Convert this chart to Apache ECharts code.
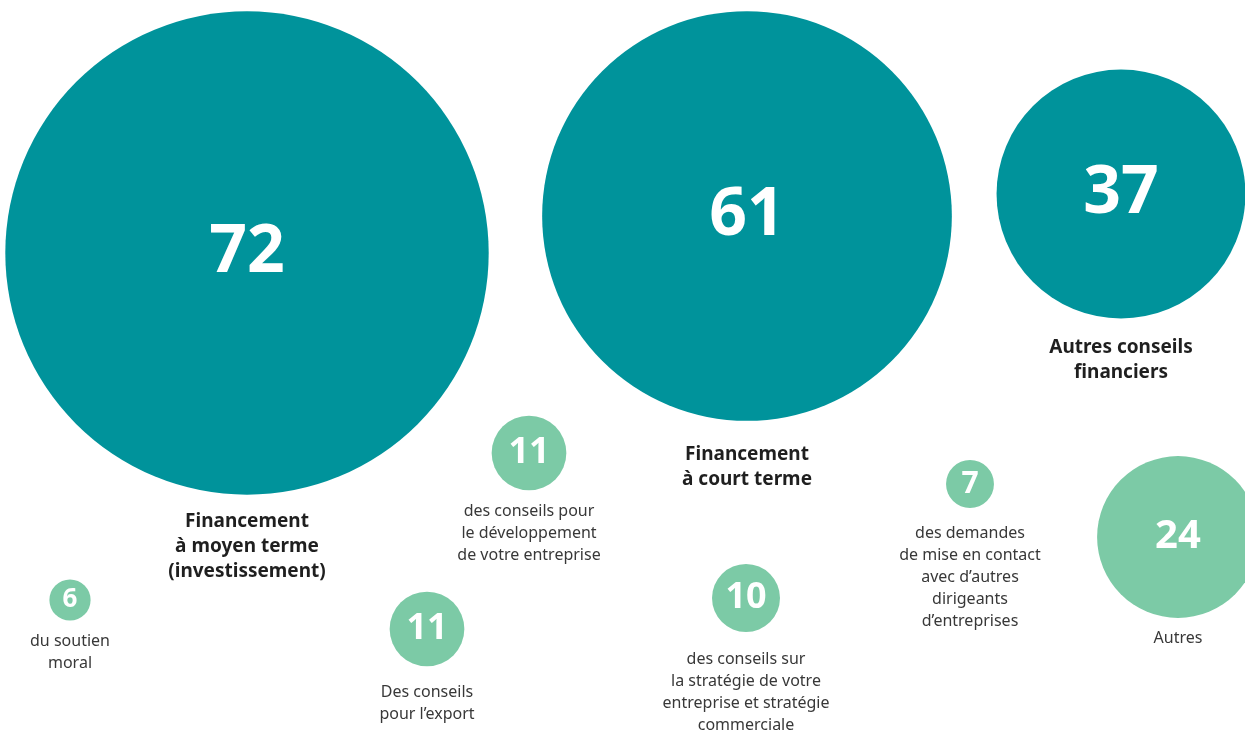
<!DOCTYPE html>
<html>
<head>
<meta charset="utf-8">
<script src="https://cdn.jsdelivr.net/npm/echarts@6/dist/echarts.min.js"></script>
<style>
  html, body { margin: 0; padding: 0; background: #fff; }
  #chart { width: 1245px; height: 731px; }
</style>
</head>
<body>
<div id="chart"></div>
<script>
// Données : nombre de demandes par type d'accompagnement
const categories = [
    'Financement\nà moyen terme\n(investissement)',
    'Financement\nà court terme',
    'Autres conseils\nfinanciers',
    'Autres',
    'des conseils pour\nle développement\nde votre entreprise',
    'Des conseils\npour l’export',
    'des conseils sur\nla stratégie de votre\nentreprise et stratégie\ncommerciale',
    'des demandes\nde mise en contact\navec d’autres\ndirigeants\nd’entreprises',
    'du soutien\nmoral'
];
const values = [72, 61, 37, 24, 11, 11, 10, 7, 6];
// true = financement (bulles foncées)
const isFinance = [true, true, true, false, false, false, false, false, false];
// emplacement des bulles (repère 0..1245 x 0..731, y vers le bas)
const posX = [247, 747, 1121, 1178, 529, 427, 746, 970, 70];
const posY = [253, 216, 194, 537, 453, 629, 598, 484, 600];

// --- mise en forme ---
const colors = { finance: '#00939B', other: '#7CCAA6', title: '#1f1f1f', text: '#383838' };
const labelGap = [14, 21, 17, 10, 10, 15, 16, 14, 10];
const sizeOf = v => v * 6.7 + 1;
const numFont = v => (v >= 30 ? 66 : v >= 20 ? 40 : v >= 10 ? 36 : v >= 7 ? 30 : 26);

const rows = values.map((v, i) => ({
    value: [posX[i], posY[i], v],
    name: categories[i],
    idx: i
}));

const bubbles = rows.map(r => ({
    value: r.value,
    name: r.name,
    itemStyle: { color: isFinance[r.idx] ? colors.finance : colors.other, opacity: 1 },
    label: {
        show: true,
        position: 'inside',
        formatter: String(values[r.idx]),
        color: '#ffffff',
        fontFamily: 'Noto Sans',
        fontWeight: 'bold',
        fontSize: numFont(values[r.idx])
    }
}));

const captions = rows.map(r => ({
    value: r.value,
    name: r.name,
    label: {
        show: true,
        position: 'bottom',
        distance: labelGap[r.idx],
        formatter: r.name,
        align: 'center',
        color: isFinance[r.idx] ? colors.title : colors.text,
        fontFamily: 'Noto Sans',
        fontWeight: isFinance[r.idx] ? 'bold' : 'normal',
        fontSize: isFinance[r.idx] ? 19 : 16,
        lineHeight: isFinance[r.idx] ? 25 : 22
    }
}));

const chart = echarts.init(document.getElementById('chart'), null, { renderer: 'canvas' });
chart.setOption({
    animation: false,
    grid: { left: 0, right: 0, top: 0, bottom: 0 },
    xAxis: { type: 'value', min: 0, max: 1245, show: false },
    yAxis: { type: 'value', min: 0, max: 731, inverse: true, show: false },
    series: [
        {
            type: 'scatter',
            symbol: 'circle',
            symbolSize: d => sizeOf(d[2]),
            silent: true,
            data: bubbles,
            z: 2
        },
        {
            // libellés sous chaque bulle (symbole transparent de même taille)
            type: 'scatter',
            symbol: 'circle',
            symbolSize: d => sizeOf(d[2]),
            itemStyle: { color: 'rgba(0,0,0,0)', opacity: 1 },
            silent: true,
            data: captions,
            z: 3
        }
    ]
});
</script>
</body>
</html>
